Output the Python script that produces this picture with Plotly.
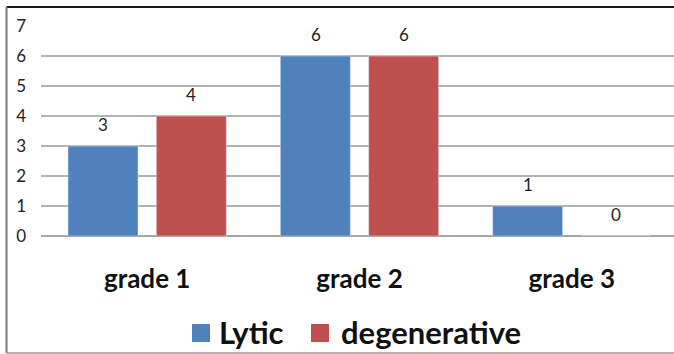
import plotly.graph_objects as go

categories = ["grade 1", "grade 2", "grade 3"]
lytic = [3, 6, 1]
degenerative = [4, 6, 0]
y_ticks = [0, 1, 2, 3, 4, 5, 6, 7]

W, H = 674, 354
L, R, T, B = 41, 0, 26, 118
pw, ph = W - L - R, H - T - B


def px_x(p):
    return (p - L) / pw


def px_y(p):
    return (H - B - p) / ph


FONT = "Lato, 'Open Sans', sans-serif"
BLUE, RED = "#4F81BD", "#C0504D"

fig = go.Figure()
fig.add_trace(go.Bar(name="Lytic", x=categories, y=lytic, marker_color=BLUE,
                     showlegend=False))
fig.add_trace(go.Bar(name="degenerative", x=categories, y=degenerative,
                     marker_color=RED, showlegend=False))

# value labels above each bar
for series, shift in ((lytic, -44), (degenerative, 44)):
    for cat, v in zip(categories, series):
        fig.add_annotation(
            x=cat, y=v, text=str(v), showarrow=False,
            xshift=shift, yshift=22, yanchor="middle",
            font=dict(size=17, family=FONT, color="#222222"),
        )

# legend row below the axis: colour swatch + series name
for tr, sq_left, txt_left in ((fig.data[0], 192, 217), (fig.data[1], 311, 339)):
    fig.add_shape(type="rect", xref="paper", yref="paper",
                  x0=px_x(sq_left), x1=px_x(sq_left + 18),
                  y0=px_y(342), y1=px_y(324),
                  fillcolor=tr.marker.color, line=dict(width=0))
    fig.add_annotation(xref="paper", yref="paper",
                       x=px_x(txt_left), y=px_y(332), xanchor="left",
                       yanchor="middle", text=tr.name, showarrow=False,
                       font=dict(size=31, family=FONT, weight="bold",
                                 color="#111111"))

# outer chart frame
fig.add_shape(type="line", xref="paper", yref="paper",
              x0=px_x(6.5), x1=1.1, y0=px_y(7), y1=px_y(7),
              line=dict(color="#1a1a1a", width=2))
fig.add_shape(type="line", xref="paper", yref="paper",
              x0=px_x(6.5), x1=px_x(6.5), y0=px_y(7), y1=px_y(353),
              line=dict(color="#7a7a7a", width=2))
fig.add_shape(type="line", xref="paper", yref="paper",
              x0=px_x(6.5), x1=1.1, y0=px_y(353), y1=px_y(353),
              line=dict(color="#9a9a9a", width=1.5))

fig.update_layout(
    width=W, height=H,
    margin=dict(l=L, r=R, t=T, b=B, autoexpand=False),
    paper_bgcolor="white", plot_bgcolor="white",
    barmode="group", bargap=0.168, bargroupgap=0.207,
    font=dict(family=FONT, color="#1a1a1a"),
    xaxis=dict(
        range=[-0.5, 2.5 - 4 / 212.5], showgrid=False, zeroline=False,
        showline=False, ticks="",
        tickfont=dict(size=26, family=FONT, weight="bold", color="#111111"),
        ticklabelstandoff=25,
    ),
    yaxis=dict(
        range=[0, 7], tickvals=y_ticks, showgrid=True,
        gridcolor="#b3b3b3", gridwidth=1.5, zeroline=True,
        zerolinecolor="#a6a6a6", zerolinewidth=1.5, showline=False,
        ticks="", tickfont=dict(size=17, family=FONT, color="#222222"),
        ticklabelstandoff=14,
    ),
    showlegend=False,
)

fig.write_html("out.html")
